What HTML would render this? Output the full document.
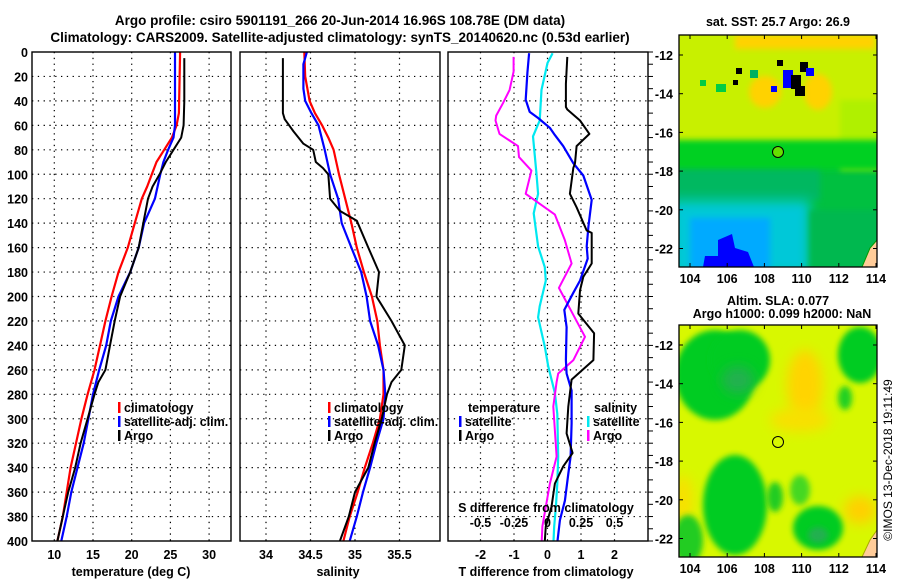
<!DOCTYPE html>
<html><head><meta charset="utf-8"><style>
html,body{margin:0;padding:0;background:#fff;}
svg{display:block;font-family:"Liberation Sans",sans-serif;font-weight:bold;}
</style></head><body>
<svg id="c" width="900" height="580" viewBox="0 0 900 580" xmlns="http://www.w3.org/2000/svg">
<defs>
<filter id="blur2" x="-50%" y="-50%" width="200%" height="200%"><feGaussianBlur stdDeviation="6"/></filter>
<filter id="blur1" x="-50%" y="-50%" width="200%" height="200%"><feGaussianBlur stdDeviation="3"/></filter>
<clipPath id="clipMap1"><rect x="679" y="35" width="198" height="232"/></clipPath>
<clipPath id="clipMap2"><rect x="679" y="325" width="198" height="232"/></clipPath>
</defs>
<text x="340" y="25" text-anchor="middle" font-size="13.5">Argo profile: csiro 5901191_266 20-Jun-2014 16.96S 108.78E (DM data)</text>
<text x="340" y="42" text-anchor="middle" font-size="13.5">Climatology: CARS2009. Satellite-adjusted climatology: synTS_20140620.nc (0.53d earlier)</text>

<!-- Top map (SST) -->
<g clip-path="url(#clipMap1)">
<rect x="679" y="35" width="198" height="232" fill="#00c040"/>
<rect x="670" y="25" width="220" height="125" fill="#c8f000" filter="url(#blur1)"/>
<rect x="840" y="100" width="50" height="70" fill="#b0f000" filter="url(#blur1)"/>
<rect x="735" y="35" width="140" height="14" fill="#ffd200" filter="url(#blur1)"/>
<ellipse cx="765" cy="92" rx="16" ry="16" fill="#ffd200" filter="url(#blur1)"/>
<ellipse cx="818" cy="92" rx="14" ry="18" fill="#ffd200" filter="url(#blur1)"/>
<rect x="670" y="140" width="220" height="30" fill="#00d020" filter="url(#blur1)"/>
<rect x="670" y="170" width="150" height="30" fill="#00b860" filter="url(#blur1)"/>
<rect x="670" y="200" width="140" height="75" fill="#00c8d8" filter="url(#blur2)"/>
<rect x="690" y="218" width="80" height="55" fill="#00aaff" filter="url(#blur1)"/>
<rect x="810" y="210" width="80" height="65" fill="#00b850" filter="url(#blur1)"/>
<polygon points="703,267 705,256 718,256 718,240 732,234 735,248 748,252 754,267" fill="#0000ff"/>
<rect x="783" y="70" width="10" height="18" fill="#0000ff"/>
<rect x="791" y="75" width="10" height="14" fill="#000"/>
<rect x="795" y="86" width="10" height="10" fill="#000"/>
<rect x="800" y="62" width="8" height="10" fill="#000"/>
<rect x="806" y="68" width="8" height="8" fill="#0000ff"/>
<rect x="771" y="86" width="6" height="6" fill="#0000ff"/>
<rect x="777" y="60" width="6" height="6" fill="#000"/>
<rect x="736" y="68" width="6" height="6" fill="#000"/>
<rect x="733" y="80" width="5" height="5" fill="#000"/>
<rect x="700" y="80" width="6" height="6" fill="#00cc44"/>
<rect x="716" y="84" width="10" height="8" fill="#00cc44"/>
<rect x="750" y="70" width="8" height="8" fill="#00b060"/>
<polygon points="862,267 870,248 877,240 877,267" fill="#ffcc99" stroke="#009900" stroke-width="1"/>
<circle cx="778" cy="152" r="5.5" fill="#66e000" stroke="#000" stroke-width="1"/>
</g>
<rect x="679" y="35" width="198" height="232" fill="none" stroke="#000" stroke-width="1.3"/>
<text x="778" y="26" text-anchor="middle" font-size="12.5">sat. SST: 25.7 Argo: 26.9</text>

<!-- Bottom map (SLA) -->
<g clip-path="url(#clipMap2)">
<rect x="679" y="325" width="198" height="232" fill="#d8f800"/>
<ellipse cx="805" cy="385" rx="18" ry="35" fill="#ffd400" filter="url(#blur2)"/>
<ellipse cx="800" cy="420" rx="30" ry="12" fill="#f8e000" filter="url(#blur2)"/>
<ellipse cx="860" cy="510" rx="16" ry="14" fill="#ffd000" filter="url(#blur2)"/>
<ellipse cx="683" cy="500" rx="10" ry="25" fill="#f8e000" filter="url(#blur2)"/>
<ellipse cx="715" cy="375" rx="40" ry="45" fill="#00cc22" filter="url(#blur1)"/>
<ellipse cx="740" cy="360" rx="30" ry="30" fill="#00cc22" filter="url(#blur1)"/>
<ellipse cx="738" cy="380" rx="16" ry="14" fill="#22b050" filter="url(#blur2)"/>
<ellipse cx="860" cy="355" rx="22" ry="28" fill="#00cc22" filter="url(#blur1)"/>
<ellipse cx="845" cy="398" rx="7" ry="12" fill="#22d020" filter="url(#blur1)"/>
<ellipse cx="735" cy="505" rx="32" ry="50" fill="#00cc22" filter="url(#blur1)"/>
<ellipse cx="688" cy="540" rx="15" ry="25" fill="#22cc22" filter="url(#blur1)"/>
<ellipse cx="818" cy="528" rx="25" ry="22" fill="#00cc22" filter="url(#blur1)"/>
<ellipse cx="818" cy="535" rx="10" ry="8" fill="#22b050" filter="url(#blur1)"/>
<ellipse cx="800" cy="490" rx="10" ry="15" fill="#44d820" filter="url(#blur1)"/>
<ellipse cx="775" cy="497" rx="8" ry="15" fill="#22cc22" filter="url(#blur1)"/>
<polygon points="862,557 870,540 877,530 877,557" fill="#ffcc99" stroke="#aaaa00" stroke-width="1"/>
<circle cx="778" cy="442" r="5.5" fill="none" stroke="#000" stroke-width="1"/>
</g>
<rect x="679" y="325" width="198" height="232" fill="none" stroke="#000" stroke-width="1.3"/>
<text x="778" y="305" text-anchor="middle" font-size="12.5">Altim. SLA: 0.077</text>
<text x="782" y="318" text-anchor="middle" font-size="12.5">Argo h1000: 0.099 h2000: NaN</text>
<text transform="translate(892,460) rotate(-90)" text-anchor="middle" font-size="12" font-weight="normal">©IMOS 13-Dec-2018 19:11:49</text>

<g id="plots"></g>
</svg>
<script>
// ---- data ----
const depthTick = [0,20,40,60,80,100,120,140,160,180,200,220,240,260,280,300,320,340,360,380,400];
const tempTicks = [10,15,20,25,30];
const salTicks = [34,34.5,35,35.5];
const salTickLabels = ["34","34.5","35","35.5"];
const dTTicks = [-2,-1,0,1,2];
const dSTicks = [-0.5,-0.25,0,0.25,0.5];
const dSTickLabels = ["-0.5","-0.25","0","0.25","0.5"];

const tClimDepth = [0,50,60,70,80,90,100,110,120,140,160,180,200,220,240,260,280,300,320,340,360,380,400];
const tClim = [26.25,26.1,25.8,25.2,24.2,23.2,22.6,22.0,21.3,20.4,19.5,18.3,17.4,16.6,15.9,15.2,14.3,13.5,12.8,12.1,11.6,11.1,10.4];
const tSatDepth = [0,20,40,60,70,80,90,100,120,140,160,180,200,220,240,260,280,300,320,340,360,380,400];
const tSat = [25.6,25.6,25.6,25.6,25.4,24.7,24.1,23.7,23.0,21.6,20.9,19.8,18.3,17.3,16.7,15.8,15.0,14.4,13.8,13.0,12.2,11.6,10.9];
const tArgoDepth = [5,40,60,70,80,90,100,110,120,140,160,180,200,220,240,260,270,280,300,320,340,360,380,400];
const tArgo = [26.8,26.8,26.7,26.4,25.4,24.4,23.6,22.7,22.1,21.5,20.9,19.8,18.5,17.8,17.2,16.6,15.7,15.2,14.3,13.4,12.7,11.8,11.1,10.4];

const sClimDepth = [0,20,40,50,60,70,80,100,120,140,160,180,200,220,240,260,280,300,320,340,360,380,400];
const sClim = [34.43,34.44,34.49,34.55,34.63,34.70,34.76,34.82,34.89,34.96,35.02,35.10,35.19,35.25,35.28,35.32,35.32,35.28,35.20,35.11,35.03,34.94,34.87];
const sSatDepth = [0,10,30,40,50,60,80,100,120,140,160,180,200,220,240,260,280,300,320,340,360,380,400];
const sSat = [34.46,34.42,34.42,34.44,34.51,34.59,34.66,34.72,34.81,34.85,34.96,35.07,35.13,35.17,35.26,35.32,35.34,35.32,35.24,35.17,35.09,35.02,34.94];
const sArgoDepth = [5,50,55,65,75,80,90,95,100,120,130,138,160,180,200,220,240,260,270,280,300,320,340,360,380,400];
const sArgo = [34.19,34.19,34.21,34.31,34.42,34.53,34.56,34.64,34.70,34.72,34.83,35.02,35.15,35.27,35.24,35.41,35.56,35.52,35.41,35.36,35.30,35.22,35.15,35.00,34.93,34.83];

const dTSatDepth = [1,17,39,49,54,62,68,77,91,101,121,143,159,169,187,197,211,225,252,263,277,304,331,345,367,383,400];
const dTSat = [-0.55,-0.6,-0.65,-0.53,-0.28,0.07,0.22,0.47,0.77,1.07,1.32,1.22,1.17,1.2,0.97,0.77,0.5,0.57,0.55,0.57,0.72,0.72,0.69,0.62,0.52,0.37,0.3];
const dTArgoDepth = [4,26,45,47,56,67,77,91,95,116,127,146,148,173,184,195,214,230,252,268,290,312,328,339,353,372,388,400];
const dTArgo = [0.59,0.55,0.55,0.59,0.97,1.25,0.87,0.82,0.77,0.67,0.87,1.17,1.32,1.32,1.07,0.97,0.92,1.39,1.37,0.72,0.62,0.57,0.75,0.47,0.22,0.12,-0.05,-0.08];
const dSSatDepth = [1,9,31,56,69,99,116,132,159,176,187,208,217,241,257,279,296,331,353,372,388,400];
const dSSat = [0.038,0,-0.045,-0.058,-0.108,-0.083,-0.07,-0.103,-0.07,-0.02,-0.013,-0.058,-0.07,-0.02,0.005,0.055,0.073,0.08,0.073,0.063,0.05,0.045];
const dSArgoDepth = [4,16,31,42,52,56,67,77,86,97,116,133,154,173,193,233,252,263,270,290,331,353,372,388,400];
const dSArgo = [-0.253,-0.253,-0.283,-0.333,-0.383,-0.388,-0.358,-0.22,-0.213,-0.12,-0.163,0.055,0.13,0.18,0.085,0.28,0.193,0.08,0.068,0.043,0.068,0.018,-0.013,-0.038,-0.043];

const lonTicks = [104,106,108,110,112,114];
const latTicks = [-12,-14,-16,-18,-20,-22];

// ---- axes ----
const Y0 = 52, Y1 = 541;
function yD(d){ return Y0 + (d/400)*(Y1-Y0); }
function xT(t){ return 54.3 + (t-10)*7.74; }
function xS(s){ return 266 + (s-34)*89; }
function xDT(v){ return 547.5 + v*33.5; }
function xDS(v){ return 547.5 + v*134; }
function xLon(l){ return 690 + (l-104)*18.6; }
function yLat1(l){ return 55 + (-12-l)*19.35; }
function yLat2(l){ return 345 + (-12-l)*19.35; }

const NS = "http://www.w3.org/2000/svg";
const root = document.getElementById('plots');
function mk(tag, attrs, parent){
  const e = document.createElementNS(NS, tag);
  for (const k in attrs) e.setAttribute(k, attrs[k]);
  (parent||root).appendChild(e);
  return e;
}
function txt(x,y,s,size,anchor,parent){
  const t = mk('text',{x:x,y:y,'font-size':size,'text-anchor':anchor||'middle'},parent);
  t.textContent = s; return t;
}

const panels = [
  {name:'temperature-panel', x0:32, x1:231},
  {name:'salinity-panel', x0:240, x1:440},
  {name:'difference-panel', x0:448, x1:648}
];
panels.forEach(function(p, i){
  const g = mk('g',{});
  
  
  p.g = g;
  depthTick.forEach(function(d){
    if (d===0||d===400) return;
    const l = mk('line',{x1:p.x0,x2:p.x1,y1:yD(d),y2:yD(d),stroke:'#000','stroke-width':1.2,'stroke-dasharray':'1.3 4.5'},g);
    
    
  });
});
function vgrid(g, xs){
  xs.forEach(function(x){
    const l = mk('line',{x1:x,x2:x,y1:Y0,y2:Y1,stroke:'#000','stroke-width':1.2,'stroke-dasharray':'1.3 4.5'},g);
    
    
  });
}
vgrid(panels[0].g, tempTicks.map(xT));
vgrid(panels[1].g, salTicks.map(xS));
vgrid(panels[2].g, dTTicks.map(xDT));

depthTick.forEach(function(d){
  const t = txt(28, yD(d)+5, String(d), 12.5, 'end');
  
  
});
for (let d=0; d<=400; d+=10){
  mk('line',{x1:648,x2:653,y1:yD(d),y2:yD(d),stroke:'#000','stroke-width':1});
}
tempTicks.forEach(function(t){
  const e = txt(xT(t), 559, String(t), 12.5);
  
  
});
salTicks.forEach(function(s,i){
  const e = txt(xS(s), 559, salTickLabels[i], 12.5);
  
  
});
dTTicks.forEach(function(v){
  const e = txt(xDT(v), 559, String(v), 12.5);
  
  
});
dSTicks.forEach(function(v,i){
  const e = txt(xDS(v), 527, dSTickLabels[i], 12.5);
  
  
});
let e;
e = txt(131, 576, 'temperature (deg C)', 12.5);


e = txt(338, 576, 'salinity', 12.5);


e = txt(546, 576, 'T difference from climatology', 12.5);


e = txt(546, 512, 'S difference from climatology', 12.5);



function series(g, depths, vals, xf, color, w, name){
  const pts = depths.map(function(d,i){ return xf(vals[i]).toFixed(1)+','+yD(d).toFixed(1); }).join(' ');
  const l = mk('polyline',{points:pts,fill:'none',stroke:color,'stroke-width':w,'stroke-linejoin':'round'},g);
  
  
}
series(panels[0].g, tClimDepth, tClim, xT, '#ff0000', 2.2, 'temperature-climatology-line');
series(panels[0].g, tSatDepth, tSat, xT, '#0000ff', 2.2, 'temperature-satellite-line');
series(panels[0].g, tArgoDepth, tArgo, xT, '#000', 2, 'temperature-argo-line');
series(panels[1].g, sClimDepth, sClim, xS, '#ff0000', 2.2, 'salinity-climatology-line');
series(panels[1].g, sSatDepth, sSat, xS, '#0000ff', 2.2, 'salinity-satellite-line');
series(panels[1].g, sArgoDepth, sArgo, xS, '#000', 2, 'salinity-argo-line');
series(panels[2].g, dSSatDepth, dSSat, xDS, '#00e8f0', 2.2, 's-diff-satellite-line');
series(panels[2].g, dSArgoDepth, dSArgo, xDS, '#ff00ff', 2, 's-diff-argo-line');
series(panels[2].g, dTSatDepth, dTSat, xDT, '#0000ff', 2.2, 't-diff-satellite-line');
series(panels[2].g, dTArgoDepth, dTArgo, xDT, '#000', 2, 't-diff-argo-line');

panels.forEach(function(p){
  const r = mk('rect',{x:p.x0,y:Y0,width:p.x1-p.x0,height:Y1-Y0,fill:'none',stroke:'#000','stroke-width':1.4},p.g);
  
  
});

function legendEntry(x, y, color, label, name){
  const g = mk('g',{});
  
  
  mk('rect',{x:x,y:y-10,width:2.5,height:11,fill:color},g);
  txt(x+6, y, label, 12.5, 'start', g);
}
legendEntry(118, 412, '#ff0000', 'climatology', 'legend-entry-climatology');
legendEntry(118, 426, '#0000ff', 'satellite-adj. clim.', 'legend-entry-satellite-adj');
legendEntry(118, 440, '#000', 'Argo', 'legend-entry-argo');
legendEntry(328, 412, '#ff0000', 'climatology', 'legend-entry-climatology-sal');
legendEntry(328, 426, '#0000ff', 'satellite-adj. clim.', 'legend-entry-satellite-adj-sal');
legendEntry(328, 440, '#000', 'Argo', 'legend-entry-argo-sal');
e = txt(468, 412, 'temperature', 12.5, 'start');


legendEntry(459, 426, '#0000ff', 'satellite', 'legend-entry-t-satellite');
legendEntry(459, 440, '#000', 'Argo', 'legend-entry-t-argo');
e = txt(594, 412, 'salinity', 12.5, 'start');


legendEntry(587, 426, '#00e8f0', 'satellite', 'legend-entry-s-satellite');
legendEntry(587, 440, '#ff00ff', 'Argo', 'legend-entry-s-argo');

function mapAxes(yTop, yBot, yLat, suffix){
  lonTicks.forEach(function(l){
    const x = xLon(l);
    mk('line',{x1:x,x2:x,y1:yTop,y2:yTop+4,stroke:'#000'});
    mk('line',{x1:x,x2:x,y1:yBot-4,y2:yBot,stroke:'#000'});
    const t = txt(x, yBot+16, String(l), 12.5);
    
    
  });
  latTicks.forEach(function(l){
    const y = yLat(l);
    mk('line',{x1:679,x2:683,y1:y,y2:y,stroke:'#000'});
    mk('line',{x1:873,x2:877,y1:y,y2:y,stroke:'#000'});
    const t = txt(673, y+5, String(l), 12.5, 'end');
    
    
  });
}
mapAxes(35, 267, yLat1, 'sst');
mapAxes(325, 557, yLat2, 'sla');
</script>
</body></html>
